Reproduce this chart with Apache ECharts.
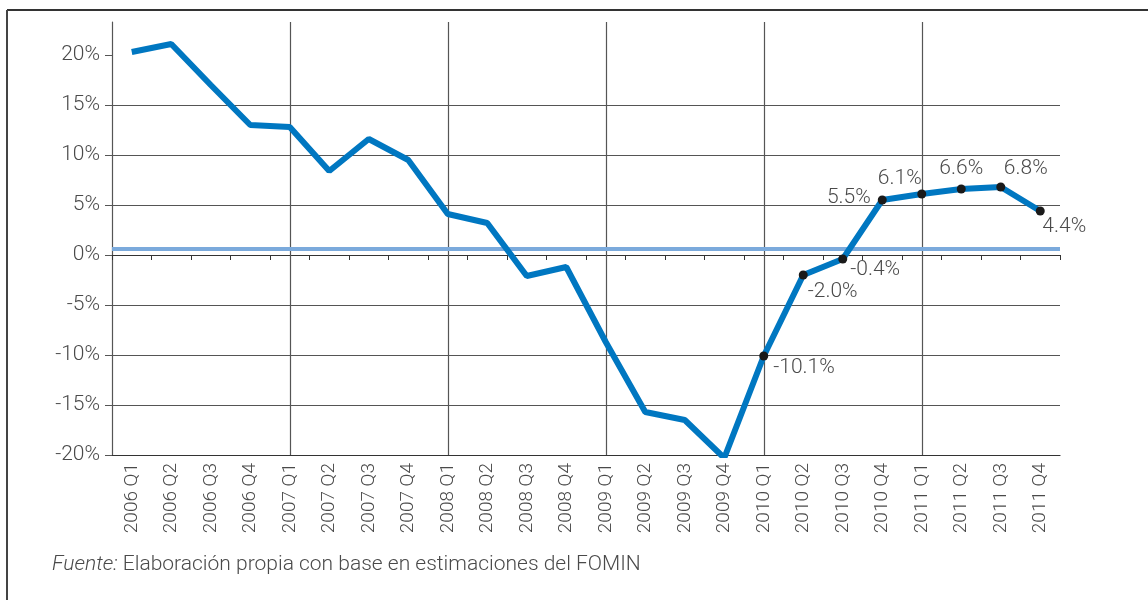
<!DOCTYPE html>
<html>
<head>
<meta charset="utf-8">
<script src="https://cdn.jsdelivr.net/npm/echarts@6/dist/echarts.min.js"></script>
<style>
html,body{margin:0;padding:0;background:#fff;}
#chart{width:1148px;height:600px;}
</style>
</head>
<body>
<div id="chart"></div>
<script>
const categories = [
  '2006 Q1','2006 Q2','2006 Q3','2006 Q4',
  '2007 Q1','2007 Q2','2007 Q3','2007 Q4',
  '2008 Q1','2008 Q2','2008 Q3','2008 Q4',
  '2009 Q1','2009 Q2','2009 Q3','2009 Q4',
  '2010 Q1','2010 Q2','2010 Q3','2010 Q4',
  '2011 Q1','2011 Q2','2011 Q3','2011 Q4'
];
const growth = [
  20.3, 21.1, 17.0, 13.0,
  12.8, 8.4, 11.6, 9.5,
  4.1, 3.2, -2.1, -1.2,
  -8.7, -15.7, -16.5, -20.3,
  -10.1, -2.0, -0.4, 5.5,
  6.1, 6.6, 6.8, 4.4
];
const refLevel = 0.65;
const yTicks = [-20, -15, -10, -5, 0, 5, 10, 15, 20];
const yMin = -20, yMax = 23.3;
const labeledFrom = '2010 Q1';
const sourceNote = 'Elaboración propia con base en estimaciones del FOMIN';
const sourceLead = 'Fuente:';

// label placement (style, kept apart from the data)
const labelStyles = {
  '2010 Q1': {position: 'right', offset: [0, 12]},
  '2010 Q2': {position: 'right', offset: [-5, 17]},
  '2010 Q3': {position: 'right', offset: [-2, 11]},
  '2010 Q4': {position: 'left', offset: [-2, -2]},
  '2011 Q1': {position: 'top', offset: [-22, 5]},
  '2011 Q2': {position: 'top', offset: [0, 0]},
  '2011 Q3': {position: 'top', offset: [25, 2]},
  '2011 Q4': {position: 'bottom', offset: [24, -4]}
};

const FONT = 'Roboto, "DejaVu Sans", sans-serif';
const TEXT = '#4a4a4a';
const GRID = '#555';
const startIdx = categories.indexOf(labeledFrom);

const lineData = growth.map((v, i) => {
  const item = {value: v};
  if (i >= startIdx) {
    const ls = labelStyles[categories[i]] || {position: 'top'};
    item.symbol = 'circle';
    item.symbolSize = 9;
    item.label = {
      show: true,
      position: ls.position,
      offset: ls.offset,
      formatter: p => p.value.toFixed(1) + '%'
    };
  } else {
    item.symbol = 'none';
  }
  return item;
});

const yearLines = categories
  .filter((c, i) => i > 0 && c.endsWith('Q1'))
  .map(c => ({xAxis: c}));

const chart = echarts.init(document.getElementById('chart'));
chart.setOption({
  animation: false,
  backgroundColor: '#fff',
  textStyle: {fontFamily: FONT},
  grid: {left: 112, right: 88, top: 22, bottom: 145, containLabel: false},
  title: {
    left: 47, top: 549,
    text: '{i|' + sourceLead + '} ' + sourceNote,
    textStyle: {
      fontFamily: FONT, fontSize: 21, fontWeight: 300, color: TEXT,
      rich: {i: {fontFamily: FONT, fontSize: 21, fontStyle: 'italic', fontWeight: 300, color: TEXT}}
    }
  },
  graphic: [
    {type: 'line', shape: {x1: 7, y1: 10, x2: 1148, y2: 10}, style: {stroke: '#333', lineWidth: 2}, silent: true},
    {type: 'line', shape: {x1: 7, y1: 10, x2: 7, y2: 600}, style: {stroke: '#444', lineWidth: 2}, silent: true}
  ],
  xAxis: [
    {
      type: 'category', data: categories, position: 'bottom',
      boundaryGap: true,
      axisLine: {show: true, onZero: false, lineStyle: {color: '#333', width: 1.2}},
      axisTick: {show: false},
      splitLine: {show: false},
      axisLabel: {
        rotate: 90, interval: 0, margin: 8,
        fontFamily: FONT, fontSize: 19, fontWeight: 300, color: TEXT
      }
    },
    {
      type: 'category', data: categories, position: 'bottom',
      boundaryGap: true,
      axisLine: {show: true, onZero: true, lineStyle: {color: '#333', width: 1.2}},
      axisTick: {show: true, inside: false, length: 5, interval: 0, lineStyle: {color: '#333'}},
      axisLabel: {show: false},
      splitLine: {show: false}
    }
  ],
  yAxis: {
    type: 'value', min: yMin, max: yMax, interval: 5,
    axisLine: {show: true, onZero: false, lineStyle: {color: GRID, width: 1.2}},
    axisTick: {show: true, length: 7, customValues: yTicks, lineStyle: {color: GRID}},
    axisLabel: {
      customValues: yTicks,
      formatter: v => (yTicks.indexOf(v) >= 0 ? v + '%' : ''),
      margin: 12, fontFamily: FONT, fontSize: 21, fontWeight: 300, color: TEXT
    },
    splitLine: {show: true, showMaxLine: false, showMinLine: false, lineStyle: {color: GRID, width: 1.2}}
  },
  series: [
    {
      type: 'line',
      xAxisIndex: 0,
      data: lineData,
      clip: true,
      lineStyle: {color: '#0077C1', width: 6},
      itemStyle: {color: '#1a1a1a'},
      label: {fontFamily: FONT, fontSize: 21, fontWeight: 300, color: TEXT},
      z: 5,
      markLine: {
        silent: true, symbol: 'none',
        label: {show: false},
        data: yearLines.map(d => Object.assign({lineStyle: {color: GRID, width: 1.2, type: 'solid'}}, d))
          .concat([{yAxis: refLevel, lineStyle: {color: '#7BAADC', width: 4, type: 'solid'}}])
      }
    }
  ]
});
</script>
</body>
</html>
